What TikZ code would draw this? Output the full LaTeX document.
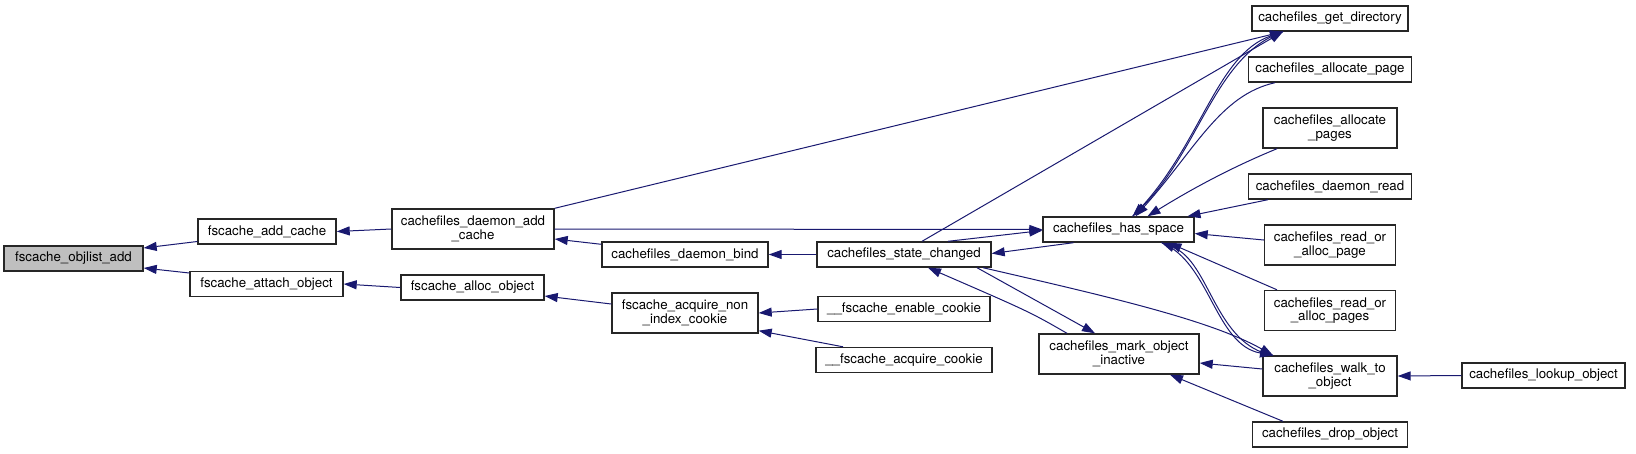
\documentclass[tikz,border=0pt]{standalone}
\usepackage{fontspec}
\setmainfont{TeX Gyre Heros}
\usetikzlibrary{arrows.meta}

\definecolor{edgeblue}{HTML}{191970}
\colorlet{rootfill}{black!25}
\newcommand{\fnfont}{\fontsize{13.3}{13.5}\selectfont}

\tikzset{
  fn/.style={draw=black!85, line width=1.4pt, fill=white, inner sep=0pt,
             align=center, font=\fnfont, minimum height=25pt},
  call edge/.style={-{Triangle[length=13pt,width=9pt]}, edgeblue, line width=1pt},
}

\begin{document}
\begin{tikzpicture}[x=1pt, y=-1pt]
    \useasboundingbox (0,0) rectangle (1636,453);

    % ======== function boxes ========
    \node[fn, fill=rootfill, minimum width=139] (objlist) at (73.5,258.5) {fscache\_objlist\_add};
    \node[fn, minimum width=138] (addcache) at (267,231.5) {fscache\_add\_cache};
    \node[fn, minimum width=153] (attach) at (266.5,284) {fscache\_attach\_object};
    \node[fn, minimum width=162, minimum height=40] (daemonadd) at (473,229)
      {cachefiles\_daemon\_add\\\_cache};
    \node[fn, minimum width=143] (allocobj) at (472.5,287.5) {fscache\_alloc\_object};
    \node[fn, minimum width=166] (daemonbind) at (685,254.5) {cachefiles\_daemon\_bind};
    \node[fn, minimum width=146, minimum height=40] (acqnon) at (685,313)
      {fscache\_acquire\_non\\\_index\_cookie};
    \node[fn, minimum width=174] (statech) at (904,254.5) {cachefiles\_state\_changed};
    \node[fn, minimum width=172] (enable) at (904,309) {\_\_fscache\_enable\_cookie};
    \node[fn, minimum width=176] (acqcookie) at (904,360) {\_\_fscache\_acquire\_cookie};
    \node[fn, minimum width=151] (hasspace) at (1118.5,229.5) {cachefiles\_has\_space};
    \node[fn, minimum width=160, minimum height=40] (markinact) at (1119,354)
      {cachefiles\_mark\_object\\\_inactive};
    \node[fn, minimum width=163] (lookup) at (1543.5,375.5) {cachefiles\_lookup\_object};

    % right column: name / y / width / height / label
    \foreach \nm/\yy/\ww/\hh/\txt in {
        getdir/18.5/156/25/{cachefiles\_get\_directory},
        allocpage/69.5/163/25/{cachefiles\_allocate\_page},
        allocpages/128/134/40/{cachefiles\_allocate\\\_pages},
        daemonread/186.5/163/25/{cachefiles\_daemon\_read},
        rallocpage/245/131/40/{cachefiles\_read\_or\\\_alloc\_page},
        rallocpages/310.5/131/40/{cachefiles\_read\_or\\\_alloc\_pages},
        walk/376/134/40/{cachefiles\_walk\_to\\\_object},
        drop/434.5/155/25/{cachefiles\_drop\_object}} {
      \node[fn, minimum width=\ww, minimum height=\hh] (\nm) at (1330,\yy) {\txt};
    }

    % ======== calls (arrow points at the callee) ========
    \draw[call edge] ([yshift=-10]addcache.west) -- ([yshift=10.5]objlist.east);
    \draw[call edge] ([yshift=11]attach.west) -- ([yshift=-9.5]objlist.east);
    \draw[call edge] (daemonadd.west) -- (addcache.east);
    \draw[call edge] (allocobj.west) -- (attach.east);
    \draw[call edge] ([yshift=-3]daemonbind.north west) -- ([yshift=-10]daemonadd.east);
    \draw[call edge] ([yshift=9]acqnon.west) -- ([yshift=-8.5]allocobj.east);
    \draw[call edge] (statech.west) -- (daemonbind.east);
    \draw[call edge] (enable.west) -- (acqnon.east);
    \draw[call edge] ([xshift=-61]acqcookie.north) -- ([yshift=3]acqnon.south east);

    % to get_directory
    \draw[call edge] (daemonadd.north east) -- ([xshift=-47]getdir.south);
    \draw[call edge] ([xshift=18]statech.north) -- ([xshift=-47]getdir.south);
    \draw[call edge] ([xshift=14]hasspace.north) .. controls (1200,150) and (1215,55)
      .. ([xshift=-47]getdir.south);

    % to has_space
    \draw[call edge] (daemonadd.east) -- (hasspace.west);
    \draw[call edge] ([xshift=44]statech.north) -- ([yshift=-1]hasspace.west);
    \draw[call edge] ([xshift=-47]getdir.south) .. controls (1215,55) and (1200,150)
      .. ([xshift=14]hasspace.north);
    \draw[call edge] ([xshift=-55]allocpage.south) .. controls (1220,95) and (1195,150)
      .. ([xshift=17]hasspace.north);
    \draw[call edge] ([xshift=-53]allocpages.south) .. controls (1230,168) and (1190,190)
      .. ([xshift=29]hasspace.north);
    \draw[call edge] ([xshift=-62]daemonread.south) -- ([xshift=69]hasspace.north);
    \draw[call edge] ([yshift=5]rallocpage.west) -- ([yshift=-4]hasspace.east);
    \draw[call edge] ([xshift=-53]rallocpages.north) -- ([xshift=50]hasspace.south);
    \draw[call edge] ([xshift=-57]walk.north) .. controls (1215,345) and (1210,262)
      .. ([xshift=43]hasspace.south);

    % around state_changed
    \draw[call edge] ([xshift=-45]hasspace.south) -- ([yshift=1]statech.east);
    \draw[call edge] ([xshift=73]statech.south) -- ([xshift=-24]markinact.north);
    \draw[call edge] ([xshift=-52]markinact.north) .. controls (1030,312)
      .. ([xshift=24]statech.south);

    % to walk_to_object
    \draw[call edge] ([xshift=43]hasspace.south) .. controls (1210,262) and (1215,345)
      .. ([xshift=-57]walk.north);
    \draw[call edge] ([xshift=79]statech.south) .. controls (1110,297) and (1210,320)
      .. ([xshift=-57]walk.north);
    \draw[call edge] (lookup.west) -- (walk.east);

    % to mark_object_inactive
    \draw[call edge] ([yshift=7]walk.west) -- ([yshift=-9]markinact.east);
    \draw[call edge] ([xshift=-47]drop.north) -- ([xshift=51]markinact.south);

\end{tikzpicture}
\end{document}
